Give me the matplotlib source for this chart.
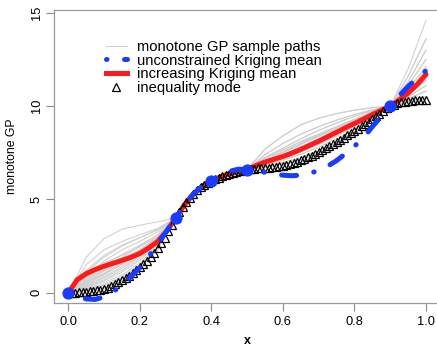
import numpy as np
import matplotlib
matplotlib.use("Agg")
import matplotlib.pyplot as plt

plt.rcParams['font.family'] = ['Liberation Sans', 'DejaVu Sans']

# design points
x_design = [0.0, 0.3, 0.4, 0.5, 0.9]
y_design = [0.0, 4.0, 6.0, 6.6, 10.0]

# inequality mode on a 0.01 grid
x_mode = np.linspace(0, 1, 101)
y_mode = [
    0.0, 0.0, 0.01, 0.02, 0.03, 0.05, 0.07, 0.1, 0.13, 0.17,
    0.22, 0.28, 0.36, 0.45, 0.55, 0.66, 0.78, 0.91, 1.05, 1.2,
    1.36, 1.53, 1.72, 1.92, 2.14, 2.38, 2.64, 2.95, 3.3, 3.65,
    4.0, 4.3, 4.58, 4.84, 5.08, 5.3, 5.49, 5.65, 5.78, 5.9,
    6.0, 6.09, 6.17, 6.24, 6.31, 6.37, 6.42, 6.47, 6.52, 6.56,
    6.6, 6.63, 6.65, 6.67, 6.68, 6.69, 6.7, 6.72, 6.74, 6.77,
    6.8, 6.85, 6.9, 6.96, 7.03, 7.1, 7.18, 7.26, 7.35, 7.44,
    7.54, 7.64, 7.75, 7.86, 7.97, 8.08, 8.19, 8.31, 8.43, 8.55,
    8.67, 8.79, 8.91, 9.03, 9.16, 9.3, 9.45, 9.6, 9.75, 9.88,
    10.0, 10.08, 10.15, 10.2, 10.24, 10.27, 10.29, 10.31, 10.32, 10.33,
    10.34,
]

# kriging means on a 0.025 grid
x_mean = np.linspace(0, 1, 41)
y_increasing = [
    0.0, 0.7, 1.02, 1.24, 1.42, 1.58, 1.73, 1.9, 2.1, 2.4,
    2.75, 3.3, 4.0, 4.72, 5.3, 5.72, 6.0, 6.21, 6.38, 6.5,
    6.6, 6.82, 7.0, 7.15, 7.3, 7.48, 7.68, 7.9, 8.12, 8.36,
    8.6, 8.84, 9.07, 9.3, 9.55, 9.78, 10.0, 10.33, 10.7, 11.15,
    11.7,
]
y_unconstrained = [
    0.0, -0.2, -0.33, -0.36, -0.22, 0.05, 0.4, 0.86, 1.35, 1.95,
    2.62, 3.3, 4.0, 4.7, 5.3, 5.72, 6.0, 6.25, 6.5, 6.62,
    6.6, 6.55, 6.45, 6.36, 6.3, 6.27, 6.3, 6.4, 6.55, 6.78,
    7.08, 7.45, 7.85, 8.3, 8.9, 9.45, 10.0, 10.55, 11.05, 11.5,
    11.9,
]

# monotone GP sample paths on a 0.05 grid
x_paths = np.linspace(0, 1, 21)
sample_paths = [
    [0, 1.9, 2.9, 3.4, 3.62, 3.8, 4, 5.35, 6, 6.42, 6.6, 7.1, 7.55, 8.0, 8.45, 8.88, 9.28, 9.65, 10, 10.7, 11.7],
    [0, 1.2, 2.0, 2.55, 2.95, 3.35, 4, 5.3, 6, 6.4, 6.6, 7.4, 8.0, 8.5, 8.9, 9.25, 9.55, 9.8, 10, 11.3, 13.0],
    [0, 0.9, 1.7, 2.3, 2.75, 3.25, 4, 5.28, 6, 6.38, 6.6, 6.9, 7.2, 7.55, 7.95, 8.4, 8.9, 9.45, 10, 10.4, 10.8],
    [0, 0.7, 1.35, 1.9, 2.5, 3.1, 4, 5.25, 6, 6.36, 6.6, 7.7, 8.4, 9.0, 9.35, 9.6, 9.78, 9.92, 10, 11.6, 13.6],
    [0, 0.6, 1.2, 1.75, 2.3, 2.95, 4, 5.3, 6, 6.4, 6.6, 6.78, 6.98, 7.25, 7.6, 8.05, 8.62, 9.3, 10, 10.9, 12.1],
    [0, 0.8, 1.4, 1.85, 2.3, 2.9, 4, 5.27, 6, 6.37, 6.6, 7.0, 7.4, 7.82, 8.25, 8.7, 9.15, 9.58, 10, 10.25, 10.4],
    [0, 0.5, 1.0, 1.5, 2.1, 2.85, 4, 5.22, 6, 6.35, 6.6, 7.25, 7.75, 8.25, 8.7, 9.1, 9.45, 9.75, 10, 10.6, 11.4],
    [0, 0.45, 0.95, 1.55, 2.25, 3.0, 4, 5.25, 6, 6.38, 6.6, 6.72, 6.88, 7.12, 7.46, 7.93, 8.55, 9.28, 10, 12.0, 14.6],
    [0, 0.35, 0.8, 1.3, 1.95, 2.75, 4, 5.2, 6, 6.34, 6.6, 6.95, 7.3, 7.7, 8.12, 8.57, 9.04, 9.52, 10, 10.5, 11.1],
    [0, 0.3, 0.65, 1.1, 1.75, 2.6, 4, 5.18, 6, 6.33, 6.6, 7.2, 7.65, 8.1, 8.5, 8.9, 9.3, 9.68, 10, 10.3, 10.5],
    [0, 0.25, 0.55, 0.95, 1.6, 2.5, 4, 5.17, 6, 6.32, 6.6, 6.85, 7.1, 7.42, 7.8, 8.25, 8.78, 9.38, 10, 11.1, 12.5],
    [0, 0.2, 0.45, 0.85, 1.5, 2.45, 4, 5.16, 6, 6.33, 6.6, 7.05, 7.5, 7.95, 8.38, 8.8, 9.2, 9.6, 10, 10.7, 11.7],
    [0, 0.1, 0.3, 0.7, 1.35, 2.35, 4, 5.15, 6, 6.31, 6.6, 7.4, 8.0, 8.5, 8.9, 9.25, 9.55, 9.8, 10, 10.8, 11.9],
    [0, 0.05, 0.22, 0.62, 1.3, 2.3, 4, 5.15, 6, 6.3, 6.6, 7.0, 7.4, 7.82, 8.25, 8.7, 9.15, 9.58, 10, 10.4, 10.8],
    [0, 1.0, 1.6, 2.0, 2.45, 3.0, 4, 5.28, 6, 6.39, 6.6, 6.78, 6.98, 7.25, 7.6, 8.05, 8.62, 9.3, 10, 11.3, 13.0],
    [0, 0.7, 1.25, 1.7, 2.15, 2.8, 4, 5.24, 6, 6.36, 6.6, 7.1, 7.55, 8.0, 8.45, 8.88, 9.28, 9.65, 10, 10.3, 10.5],
    [0, 0.55, 1.05, 1.6, 2.2, 2.9, 4, 5.26, 6, 6.38, 6.6, 6.95, 7.3, 7.7, 8.12, 8.57, 9.04, 9.52, 10, 11.6, 13.6],
    [0, 1.5, 2.3, 2.75, 3.1, 3.45, 4, 5.33, 6, 6.41, 6.6, 6.9, 7.2, 7.55, 7.95, 8.4, 8.9, 9.45, 10, 10.6, 11.4],
    [0, 0.4, 0.85, 1.4, 2.0, 2.75, 4, 5.21, 6, 6.35, 6.6, 7.25, 7.75, 8.25, 8.7, 9.1, 9.45, 9.75, 10, 10.9, 12.1],
    [0, 0.85, 1.5, 2.05, 2.55, 3.1, 4, 5.29, 6, 6.4, 6.6, 6.72, 6.88, 7.12, 7.46, 7.93, 8.55, 9.28, 10, 10.5, 11.1],
    [0, 0.3, 0.7, 1.2, 1.85, 2.65, 4, 5.19, 6, 6.34, 6.6, 7.2, 7.65, 8.1, 8.5, 8.9, 9.3, 9.68, 10, 10.25, 10.4],
    [0, 0.6, 1.15, 1.65, 2.2, 2.9, 4, 5.23, 6, 6.36, 6.6, 7.7, 8.4, 9.0, 9.35, 9.6, 9.78, 9.92, 10, 11.1, 12.5],
    [0, 1.1, 1.9, 2.5, 2.95, 3.4, 4, 5.31, 6, 6.42, 6.6, 6.85, 7.1, 7.42, 7.8, 8.25, 8.78, 9.38, 10, 10.7, 11.7],
    [0, 0.15, 0.4, 0.8, 1.45, 2.4, 4, 5.17, 6, 6.32, 6.6, 7.05, 7.5, 7.95, 8.38, 8.8, 9.2, 9.6, 10, 10.4, 10.8],
]

x_ticks = [0.0, 0.2, 0.4, 0.6, 0.8, 1.0]
y_ticks = [0, 5, 10, 15]

legend_labels = ["monotone GP sample paths", "unconstrained Kriging mean",
                 "increasing Kriging mean", "inequality mode"]

blue = "#1a3cff"
red = "#ff1a1a"
grey = "#cfcfcf"
dotdash = (0, (0.1, 3.5, 3, 3.5))

fig = plt.figure(figsize=(4.37, 3.47), dpi=100)
ax = fig.add_axes([54 / 437, 1 - 303 / 347, (440.3 - 54) / 437, (303 - 10) / 347])

for path in sample_paths:
    ax.plot(x_paths, path, color=grey, lw=0.75, zorder=1)
ax.plot(x_mean, y_increasing, color=red, lw=3.6, solid_capstyle="round", zorder=2)
ax.plot(x_mode, y_mode, ls="none", marker="^", ms=5.2, mfc="none", mec="black",
        mew=0.9, zorder=3)
ax.plot(x_mean, y_unconstrained, color=blue, lw=3.6, ls=dotdash,
        dash_capstyle="round", zorder=4)
ax.plot(x_design, y_design, ls="none", marker="o", ms=7.8, color=blue, zorder=5)

ax.set_xlim(-0.04, 1.04)
ax.set_ylim(-0.55, 15.15)
ax.set_xticks(x_ticks)
ax.set_xticklabels([f"{v:.1f}" for v in x_ticks])
ax.set_yticks(y_ticks)
ax.set_yticklabels([str(v) for v in y_ticks], rotation=90, va="center")
ax.tick_params(direction="out", length=5.5, width=0.8, color="#8a8a8a",
               labelsize=9.3)
ax.tick_params(axis="x", pad=4)
ax.tick_params(axis="y", pad=2.5)
for side in ax.spines.values():
    side.set_color("#9a9a9a")
    side.set_linewidth(0.9)

ax.set_xlabel("x", fontsize=9, fontweight="bold", labelpad=5)
ax.set_ylabel("monotone GP", fontsize=8.8, labelpad=9)

handles = [
    plt.Line2D([], [], color=grey, lw=0.75),
    plt.Line2D([], [], color=blue, lw=3.6, ls=dotdash, dash_capstyle="round"),
    plt.Line2D([], [], color=red, lw=3.6),
    plt.Line2D([], [], ls="none", marker="^", ms=5.2, mfc="none", mec="black", mew=0.9),
]
ax.legend(handles, legend_labels, loc="upper left", bbox_to_anchor=(106 / 437, 1 - 40 / 347),
          bbox_transform=fig.transFigure, frameon=False, fontsize=10.6,
          handlelength=1.4, handletextpad=0.7, labelspacing=-0.03, borderpad=0,
          borderaxespad=0)

fig.savefig("out.png", dpi=100)
